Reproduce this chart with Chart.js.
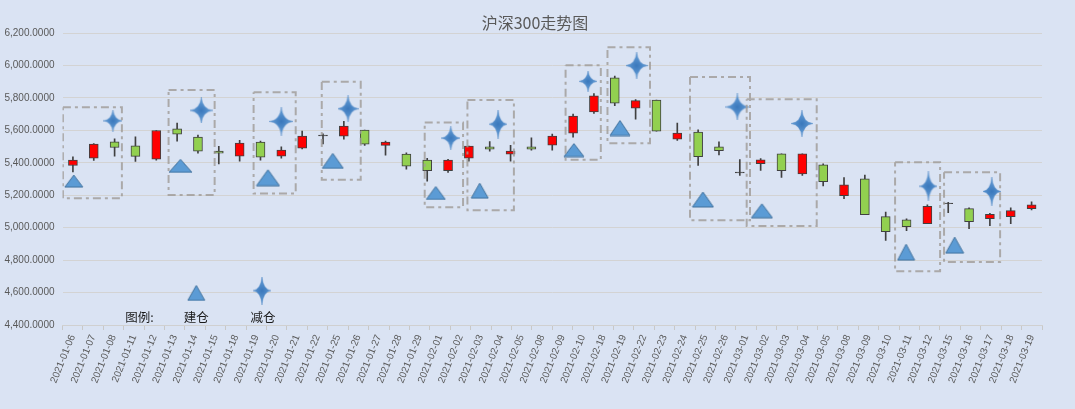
<!DOCTYPE html>
<html><head><meta charset="utf-8">
<script src="https://cdn.jsdelivr.net/npm/chart.js@4.4.1/dist/chart.umd.min.js"></script>
<style>html,body{margin:0;padding:0;background:#DAE3F3;overflow:hidden;}</style>
</head><body>
<canvas id="c" width="1075" height="409"></canvas>
<script>
// ---- data ----
const dates = ['2021-01-06','2021-01-07','2021-01-08','2021-01-11','2021-01-12','2021-01-13','2021-01-14','2021-01-15','2021-01-18','2021-01-19','2021-01-20','2021-01-21','2021-01-22','2021-01-25','2021-01-26','2021-01-27','2021-01-28','2021-01-29','2021-02-01','2021-02-02','2021-02-03','2021-02-04','2021-02-05','2021-02-08','2021-02-09','2021-02-10','2021-02-18','2021-02-19','2021-02-22','2021-02-23','2021-02-24','2021-02-25','2021-02-26','2021-03-01','2021-03-02','2021-03-03','2021-03-04','2021-03-05','2021-03-08','2021-03-09','2021-03-10','2021-03-11','2021-03-12','2021-03-15','2021-03-16','2021-03-17','2021-03-18','2021-03-19'];
const candleOpen  = [5383,5428,5529,5505,5422,5610,5558,5472,5441,5527,5441,5490,5566,5564,5601,5507,5453,5416,5352,5428,5498,5453,5498,5509,5583,5713,5923,5737,5787,5546,5590,5498,5338,5394,5455,5332,5387,5197,5301,5068,5049,5025,5148,5117,5055,5068,5117];
const candleHigh  = [5437,5518,5548,5560,5599,5645,5571,5501,5538,5533,5498,5595,5579,5655,5601,5533,5461,5428,5422,5503,5531,5507,5554,5577,5700,5826,5935,5789,5787,5645,5603,5529,5420,5426,5455,5455,5394,5308,5324,5096,5055,5141,5156,5123,5088,5123,5160];
const candleLow   = [5344,5414,5441,5408,5416,5533,5459,5393,5410,5416,5428,5486,5517,5546,5507,5447,5360,5286,5340,5410,5472,5410,5478,5478,5558,5704,5752,5669,5595,5538,5383,5449,5322,5353,5310,5322,5258,5178,5080,4922,4982,5025,5092,4994,5012,5025,5109];
const candleClose = [5416,5515,5494,5439,5599,5577,5472,5459,5521,5435,5478,5564,5570,5626,5515,5527,5379,5352,5416,5503,5484,5472,5484,5564,5688,5812,5768,5783,5595,5583,5437,5474,5342,5418,5351,5455,5283,5264,5080,4975,5006,5131,5152,5037,5082,5105,5141];
// 建仓 markers (x in candle-index units)
const buyX = [0.04,5.16,9.36,12.47,17.41,19.52,24.04,26.25,30.23,33.06,39.98,42.31];
const buyY = [5287,5381,5308,5412,5214,5228,5478,5614,5174,5104,4849,4892];
// 减仓 markers
const sellX = [1.92,6.16,10.0,13.2,18.13,20.40,24.72,27.05,31.88,34.98,41.05,44.09];
const sellY = [5659,5723,5655,5733,5552,5638,5902,5999,5744,5642,5255,5223];
// dashed boxes
const boxLeft   = [-0.48,4.59,8.67,11.94,16.88,18.93,23.64,25.65,29.61,32.33,39.45,41.80];
const boxRight  = [2.35,6.80,10.69,13.81,18.72,21.16,25.33,27.69,32.49,35.69,41.61,44.49];
const boxTop    = [5742,5849,5834,5900,5649,5787,6001,6112,5929,5791,5404,5342];
const boxBottom = [5181,5202,5210,5295,5126,5107,5418,5521,5045,5010,4731,4789];
// hand-made legend
const legendLabels = ['图例:','建仓','减仓'];
const legendLabelX = [3.20,5.92,9.12];
const legendLabelY = [4445,4445,4445];
const legendBuyX = [5.92], legendBuyY = [4598];
const legendSellX = [9.07], legendSellY = [4612];
const yTicksMin = 4400, yTicksMax = 6200, yStep = 200;

// ---- styles ----
const triW = [18,23,23,21,19,17,20,20,21,21,17,18], triH = [12,13,16,15,13,15,13,15,15,14,16,16];
const starW = [19,23,24,21,19,18,18,22,24,22,18,18], starH = [22,26,29,27,24,29,21,27,27,27,30,29];

function makeTriangle(w, h) {
  const c = document.createElement('canvas'); c.width = w + 2; c.height = h + 2;
  const g = c.getContext('2d');
  g.beginPath(); g.moveTo(1, h + 1); g.lineTo(w / 2 + 1, 1); g.lineTo(w + 1, h + 1); g.closePath();
  g.fillStyle = '#5B9BD5'; g.fill(); g.lineWidth = 1; g.strokeStyle = '#41719C'; g.stroke();
  return c;
}
function makeStar(w, h) {
  const c = document.createElement('canvas'); c.width = w; c.height = h;
  const g = c.getContext('2d');
  const cx = w / 2, cy = h / 2, k = 1.1;
  g.beginPath(); g.moveTo(cx, 0);
  g.quadraticCurveTo(cx + k, cy - k, w, cy);
  g.quadraticCurveTo(cx + k, cy + k, cx, h);
  g.quadraticCurveTo(cx - k, cy + k, 0, cy);
  g.quadraticCurveTo(cx - k, cy - k, cx, 0);
  g.closePath();
  const grad = g.createRadialGradient(cx, cy, 0, cx, cy, Math.max(w, h) / 2);
  grad.addColorStop(0, '#3A78BC'); grad.addColorStop(1, '#6FA6DC');
  g.fillStyle = grad; g.fill();
  g.lineWidth = 0.7; g.strokeStyle = 'rgba(80,135,195,0.6)'; g.stroke();
  return c;
}

const upColor = '#FF0000', downColor = '#92D050', edge = '#404040';
const candleIdx = candleOpen.map((_, i) => String(i));
const bodies = candleOpen.map((o, i) => [o, candleClose[i]]);
const wicks = candleHigh.map((h, i) => [candleLow[i], h]);
const bodyColors = candleOpen.map((o, i) => Math.abs(candleClose[i] - o) < 6 ? edge : (candleClose[i] > o ? upColor : downColor));

const boxPts = [];
boxLeft.forEach((l, i) => {
  const r = boxRight[i], t = boxTop[i], b = boxBottom[i];
  boxPts.push({x: l, y: t}, {x: r, y: t}, {x: r, y: b}, {x: l, y: b}, {x: l, y: t}, {x: l, y: null});
});

const legendText = {
  id: 'legendText',
  afterDatasetsDraw(chart) {
    const {ctx, scales} = chart;
    ctx.save();
    ctx.font = '12.5px "Noto Sans CJK SC"';
    ctx.fillStyle = '#1a1a1a';
    ctx.textAlign = 'center'; ctx.textBaseline = 'middle';
    legendLabels.forEach((t, i) => ctx.fillText(t, scales.xm.getPixelForValue(legendLabelX[i]), scales.y.getPixelForValue(legendLabelY[i])));
    ctx.restore();
  }
};

new Chart(document.getElementById('c'), {
  type: 'bar',
  data: {
    datasets: [
      { type: 'line', label: 'boxes', xAxisID: 'xm', data: boxPts, borderColor: 'rgba(160,156,152,0.82)', borderWidth: 2,
        borderDash: [8, 4, 3, 4], pointRadius: 0, fill: false, spanGaps: false, tension: 0, order: 0 },
      { type: 'line', label: '建仓', xAxisID: 'xm', showLine: false,
        data: buyX.map((x, i) => ({x, y: buyY[i]})).concat(legendBuyX.map((x, i) => ({x, y: legendBuyY[i]}))),
        pointStyle: triW.map((w, i) => makeTriangle(w, triH[i])).concat([makeTriangle(17, 15)]), pointRadius: 5, order: 1 },
      { type: 'line', label: '减仓', xAxisID: 'xm', showLine: false,
        data: sellX.map((x, i) => ({x, y: sellY[i]})).concat(legendSellX.map((x, i) => ({x, y: legendSellY[i]}))),
        pointStyle: starW.map((w, i) => makeStar(w, starH[i])).concat([makeStar(18, 28)]), pointRadius: 5, order: 1 },
      { label: 'body', xAxisID: 'x2', data: bodies, backgroundColor: bodyColors, borderColor: edge, borderWidth: 1,
        borderSkipped: false, barThickness: 9, grouped: false, order: 2 },
      { label: 'wick', xAxisID: 'x2', data: wicks, backgroundColor: edge, borderWidth: 0,
        barThickness: 1, grouped: false, order: 3 }
    ]
  },
  options: {
    responsive: false, animation: false,
    layout: { padding: { left: 0, right: 5, top: 0, bottom: 0 } },
    plugins: {
      legend: { display: false }, tooltip: { enabled: false },
      title: { display: true, text: '沪深300走势图', color: '#595959',
        font: { family: '"Noto Sans CJK SC"', size: 16, weight: 'normal' }, padding: { top: 13, bottom: 0.8 } }
    },
    scales: {
      x: { type: 'category', labels: dates, offset: true, position: 'bottom',
        grid: { display: true, drawOnChartArea: false, drawTicks: true, tickLength: 5, color: '#C8C8C8', offset: true },
        border: { display: true, color: '#D0D0D0' },
        ticks: { autoSkip: false, minRotation: 68, maxRotation: 68, padding: 3, color: '#595959',
          font: { family: '"Liberation Sans"', size: 10 } },
        afterFit(s) { s.height = 84; } },
      x2: { type: 'category', labels: candleIdx, offset: true, display: false },
      xm: { type: 'linear', min: -0.5, max: 46.5, offset: false, bounds: 'data', grace: 0, display: false,
        grid: { offset: false } },
      y: { type: 'linear', min: yTicksMin, max: yTicksMax,
        grid: { color: '#D3D3D3', drawTicks: false }, border: { display: false },
        ticks: { stepSize: yStep, padding: 8, color: '#595959', font: { family: '"Liberation Sans"', size: 10 },
          callback: v => v.toLocaleString('en-US', { minimumFractionDigits: 4, maximumFractionDigits: 4 }) },
        afterFit(s) { s.width = 62.5; } },
      yr: { type: 'linear', position: 'right', display: true, min: yTicksMin, max: yTicksMax,
        grid: { display: false, drawTicks: false }, border: { display: false }, ticks: { display: false },
        afterFit(s) { s.width = 28; } }
    }
  },
  plugins: [legendText]
});
</script>
</body></html>
